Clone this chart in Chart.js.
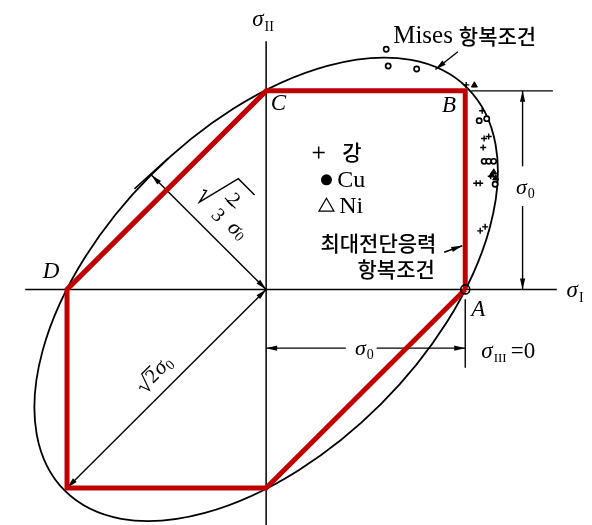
<!DOCTYPE html>
<html>
<head>
<meta charset="utf-8">
<script src="https://cdn.jsdelivr.net/npm/chart.js@4.4.0/dist/chart.umd.min.js"></script>
<style>
  html, body { margin: 0; padding: 0; background: #fff; }
  canvas { display: block; }
</style>
</head>
<body>
<canvas id="myChart" width="592" height="525"></canvas>
<script>
// stresses are in units of the yield stress sigma0
var sigma0 = 1;

// Tresca hexagon (maximum shear stress criterion), A-B-C-D-E-F-A
var hexX = [1, 1, 0, -1, -1, 0, 1];
var hexY = [0, 1, 1, 0, -1, -1, 0];

// Mises ellipse semi-axes along the 45 degree diagonals, as drawn
var ellipseMajor = 1.43;
var ellipseMinor = 0.815;

// test results: + steel, o Cu, triangle Ni
var steelX = [1.005, 1.085, 1.095, 1.118, 1.090, 1.055, 1.075, 1.128, 1.075, 1.100];
var steelY = [1.030, 0.900, 0.760, 0.770, 0.715, 0.535, 0.535, 0.570, 0.295, 0.315];
var cuX = [0.603, 0.613, 0.756, 1.070, 1.108, 1.095, 1.118, 1.143, 1.150];
var cuY = [1.210, 1.125, 1.110, 0.850, 0.860, 0.645, 0.645, 0.645, 0.530];
var niX = [1.046, 1.133, 1.153, 1.143];
var niY = [1.028, 0.575, 0.560, 0.590];

function toPoints(xs, ys) {
  return xs.map(function (x, i) { return { x: x, y: ys[i] }; });
}

var serif = '"Liberation Serif", "DejaVu Serif", serif';
var hangul = '"Noto Sans CJK KR", sans-serif';

// Mises ellipse, axes, dimension lines and text
var diagram = {
  id: "diagram",
  beforeDatasetsDraw: function (chart) {
    var ctx = chart.ctx;
    var xs = chart.scales.x, ys = chart.scales.y;
    var X = function (v) { return xs.getPixelForValue(v); };
    var Y = function (v) { return ys.getPixelForValue(v); };

    ctx.save();
    ctx.strokeStyle = "#000";
    ctx.fillStyle = "#000";

    // Mises ellipse: sigma1^2 - sigma1*sigma2 + sigma2^2 = sigma0^2
    var a = ellipseMajor * sigma0, b = ellipseMinor * sigma0;
    ctx.lineWidth = 1.8;
    ctx.beginPath();
    ctx.ellipse(X(0), Y(0), X(a) - X(0), X(b) - X(0), -Math.PI / 4, 0, Math.PI * 2);
    ctx.stroke();

    function line(x1, y1, x2, y2, w) {
      ctx.lineWidth = w || 1.4;
      ctx.beginPath();
      ctx.moveTo(X(x1), Y(y1));
      ctx.lineTo(X(x2), Y(y2));
      ctx.stroke();
    }
    function head(x1, y1, x2, y2) {
      var px = X(x2), py = Y(y2);
      var ang = Math.atan2(py - Y(y1), px - X(x1));
      ctx.save();
      ctx.translate(px, py);
      ctx.rotate(ang);
      ctx.beginPath();
      ctx.moveTo(0, 0);
      ctx.lineTo(-11, -2.6);
      ctx.lineTo(-11, 2.6);
      ctx.closePath();
      ctx.fill();
      ctx.restore();
    }
    function arrow2(x1, y1, x2, y2) {
      line(x1, y1, x2, y2);
      head(x1, y1, x2, y2);
      head(x2, y2, x1, y1);
    }

    // axes
    line(-1.21, 0, 1.46, 0, 1.5);
    line(0, 1.25, 0, -1.2, 1.5);

    // sigma0 dimension, vertical
    line(1.03, 1, 1.44, 1);
    line(1.288, 1, 1.288, 0.62);
    line(1.288, 0.42, 1.288, 0);
    head(1.288, 0.62, 1.288, 1);
    head(1.288, 0.42, 1.288, 0);

    // sigma0 dimension, horizontal
    line(1, -0.05, 1, -0.395);
    line(0, -0.296, 0.4, -0.296);
    line(0.555, -0.296, 1, -0.296);
    head(0.4, -0.296, 0, -0.296);
    head(0.555, -0.296, 1, -0.296);

    // sqrt(2) sigma0 and sqrt(2/3) sigma0
    arrow2(0, 0, -1, -1);
    var t = b / Math.SQRT2;
    arrow2(0, 0, -t, t);
    line(-t - 0.085, t - 0.07, -t + 0.085, t + 0.085);

    // pointers
    line(0.963, 1.197, 0.85, 1.108);
    head(0.963, 1.197, 0.85, 1.108);
    line(0.894, 0.187, 0.985, 0.22);
    head(0.894, 0.187, 0.985, 0.22);

    ctx.restore();
  },
  afterDatasetsDraw: function (chart) {
    var ctx = chart.ctx;
    var xs = chart.scales.x, ys = chart.scales.y;
    var X = function (v) { return xs.getPixelForValue(v); };
    var Y = function (v) { return ys.getPixelForValue(v); };

    ctx.save();
    ctx.fillStyle = "#000";
    ctx.strokeStyle = "#000";

    function text(s, x, y, font, align, base) {
      ctx.font = font;
      ctx.textAlign = align || "left";
      ctx.textBaseline = base || "alphabetic";
      ctx.fillText(s, X(x), Y(y));
    }
    // sigma with a roman subscript, left edge at (x, y) baseline
    function sig(sub, x, y, size, subSize) {
      ctx.font = "italic " + size + "px " + serif;
      ctx.textAlign = "left";
      ctx.textBaseline = "alphabetic";
      var px = X(x), py = Y(y);
      ctx.fillText("\u03c3", px, py);
      var w = ctx.measureText("\u03c3").width;
      ctx.font = subSize + "px " + serif;
      ctx.fillText(sub, px + w + 1, py + size * 0.2);
      return px + w + 1 + ctx.measureText(sub).width;
    }

    // point A marker
    ctx.lineWidth = 1.6;
    ctx.beginPath();
    ctx.arc(X(1), Y(0), 4.5, 0, Math.PI * 2);
    ctx.stroke();

    // corner letters
    var cf = "italic 23px " + serif;
    text("C", 0.062, 0.936, cf, "center", "middle");
    text("B", 0.919, 0.926, cf, "center", "middle");
    text("D", -1.08, 0.089, cf, "center", "middle");
    text("A", 1.066, -0.103, cf, "center", "middle");

    // axis names
    sig("II", -0.07, 1.325, 23, 14);
    sig("I", 1.509, -0.039, 23, 14);
    sig("0", 1.255, 0.483, 22, 14);
    sig("0", 0.446, -0.33, 22, 14);
    var ex = sig("III", 1.081, -0.345, 23, 13);
    ctx.font = "23px " + serif;
    ctx.fillText("=0", ex + 4, Y(-0.345));

    // Mises label
    text("Mises", 0.638, 1.276, "25px " + serif, "left", "middle");
    text("\ud56d\ubcf5\uc870\uac74", 0.968, 1.276, "500 21px " + hangul, "left", "middle");

    // legend
    ctx.lineWidth = 1.5;
    var lx = X(0.264), ly = Y(0.69);
    ctx.beginPath();
    ctx.moveTo(lx - 6, ly); ctx.lineTo(lx + 6, ly);
    ctx.moveTo(lx, ly - 6); ctx.lineTo(lx, ly + 6);
    ctx.stroke();
    text("\uac15", 0.382, 0.69, "500 21px " + hangul, "left", "middle");
    ctx.beginPath();
    ctx.arc(X(0.303), Y(0.552), 5.5, 0, Math.PI * 2);
    ctx.fill();
    text("Cu", 0.357, 0.545, "24px " + serif, "left", "middle");
    var tx = X(0.303), ty = Y(0.424);
    ctx.lineWidth = 1.2;
    ctx.beginPath();
    ctx.moveTo(tx, ty - 7); ctx.lineTo(tx + 7.5, ty + 6); ctx.lineTo(tx - 7.5, ty + 6);
    ctx.closePath();
    ctx.stroke();
    text("Ni", 0.367, 0.417, "24px " + serif, "left", "middle");

    text("\ucd5c\ub300\uc804\ub2e8\uc751\ub825", 0.564, 0.232, "500 21px " + hangul, "center", "middle");
    text("\ud56d\ubcf5\uc870\uac74", 0.653, 0.103, "500 21px " + hangul, "center", "middle");

    // sqrt(2) sigma0, along the diagonal
    ctx.save();
    ctx.translate(X(-0.6), Y(-0.508));
    ctx.rotate(-Math.PI / 4);
    ctx.lineWidth = 1.2;
    ctx.beginPath();
    ctx.moveTo(-4, -6); ctx.lineTo(-1.5, -7.5); ctx.lineTo(2, 2); ctx.lineTo(8, -15); ctx.lineTo(20, -15);
    ctx.stroke();
    ctx.font = "20px " + serif;
    ctx.textAlign = "left";
    ctx.textBaseline = "alphabetic";
    ctx.fillText("2", 9, 0);
    ctx.font = "italic 22px " + serif;
    ctx.fillText("\u03c3", 20, 0);
    ctx.font = "14px " + serif;
    ctx.fillText("0", 31, 3);
    ctx.restore();

    // sqrt(2/3) sigma0, along the normal to CD
    ctx.save();
    ctx.translate(X(-0.335), Y(0.44));
    ctx.rotate(Math.PI / 4);
    ctx.lineWidth = 1.4;
    ctx.beginPath();
    ctx.moveTo(-6, -11); ctx.lineTo(-3, -13); ctx.lineTo(0, 0); ctx.lineTo(11, -44); ctx.lineTo(34, -44);
    ctx.stroke();
    ctx.lineWidth = 1.1;
    ctx.beginPath();
    ctx.moveTo(15, -21); ctx.lineTo(30, -21);
    ctx.stroke();
    ctx.font = "20px " + serif;
    ctx.textAlign = "center";
    ctx.fillText("2", 22.5, -25);
    ctx.fillText("3", 22.5, -3);
    ctx.textAlign = "left";
    ctx.font = "italic 22px " + serif;
    ctx.fillText("\u03c3", 38, -6);
    ctx.font = "14px " + serif;
    ctx.fillText("0", 49, -3);
    ctx.restore();

    ctx.restore();
  }
};

new Chart("myChart", {
  type: "scatter",
  data: {
    datasets: [
      {
        label: "Tresca",
        data: toPoints(hexX, hexY),
        showLine: true,
        borderColor: "#C00000",
        borderWidth: 5,
        borderJoinStyle: "miter",
        pointRadius: 0,
        fill: false,
        tension: 0,
      },
      {
        label: "\uac15",
        data: toPoints(steelX, steelY),
        pointStyle: "cross",
        pointRadius: 3,
        borderColor: "#000",
        borderWidth: 1.4,
      },
      {
        label: "Cu",
        data: toPoints(cuX, cuY),
        pointStyle: "circle",
        pointRadius: 2.6,
        backgroundColor: "#fff",
        borderColor: "#000",
        borderWidth: 1.7,
      },
      {
        label: "Ni",
        data: toPoints(niX, niY),
        pointStyle: "triangle",
        pointRadius: 3.5,
        backgroundColor: "#000",
        borderColor: "#000",
        borderWidth: 1,
      },
    ],
  },
  options: {
    responsive: false,
    animation: false,
    layout: { padding: 0 },
    scales: {
      x: { type: "linear", min: -1.308, max: 1.608, display: false },
      y: { type: "linear", min: -1.158, max: 1.429, display: false },
    },
    plugins: {
      legend: { display: false },
      tooltip: { enabled: false },
    },
  },
  plugins: [diagram],
});
</script>
</body>
</html>
